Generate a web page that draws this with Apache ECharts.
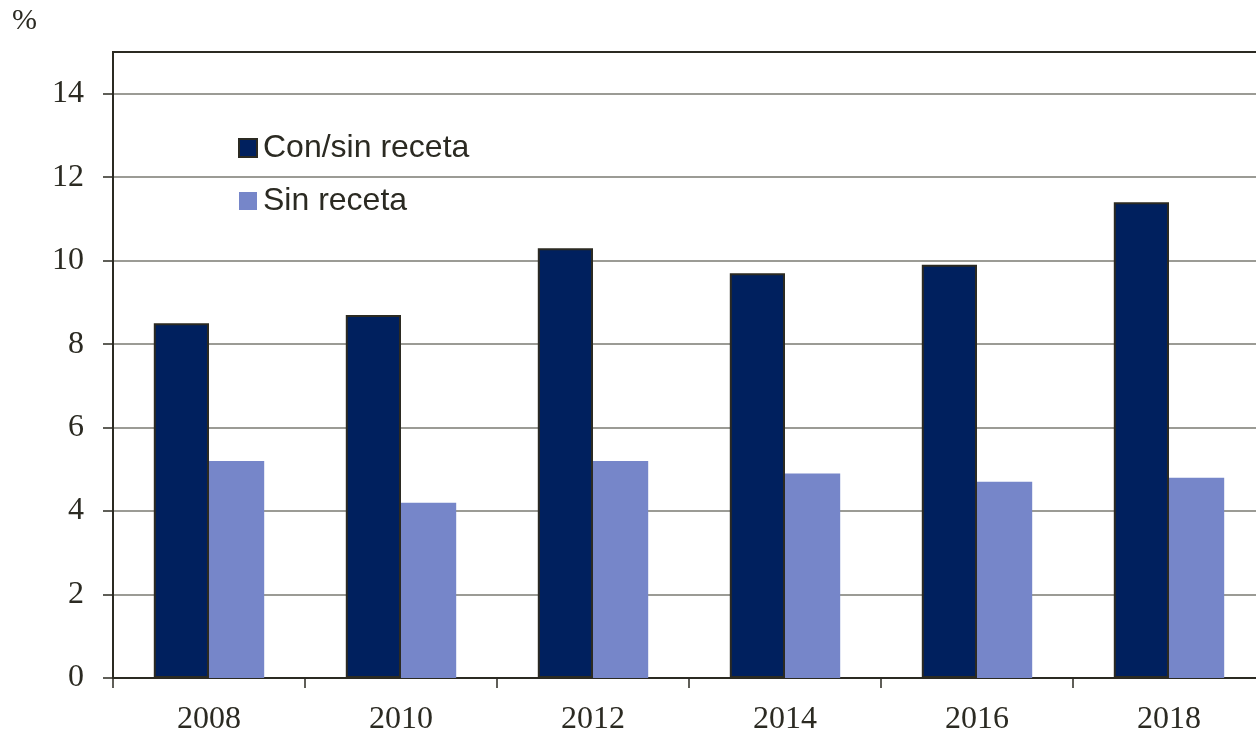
<!DOCTYPE html>
<html>
<head>
<meta charset="utf-8">
<script src="https://cdn.jsdelivr.net/npm/echarts@6/dist/echarts.min.js"></script>
<style>
html,body{margin:0;padding:0;background:#fff;}
#c{width:1256px;height:733px;}
</style>
</head>
<body>
<div id="c"></div>
<script>
var categories = ['2008', '2010', '2012', '2014', '2016', '2018'];
var conSinReceta = [8.5, 8.7, 10.3, 9.7, 9.9, 11.4];
var sinReceta = [5.2, 4.2, 5.2, 4.9, 4.7, 4.8];
var yTicks = [0, 2, 4, 6, 8, 10, 12, 14];
var seriesNames = ['Con/sin receta', 'Sin receta'];

var chart = echarts.init(document.getElementById('c'));
chart.setOption({
  animation: false,
  backgroundColor: '#ffffff',
  graphic: [{
    type: 'text', left: 12, top: 6,
    style: { text: '%', font: '30px "Liberation Serif"', fill: '#2b2a22' }
  }],
  legend: {
    orient: 'vertical',
    left: 238, top: 132,
    padding: 0,
    itemWidth: 18, itemHeight: 18,
    itemGap: 21,
    icon: 'rect',
    textStyle: { fontFamily: 'Liberation Sans', fontSize: 32, lineHeight: 31, color: '#2b2a22', padding: [0, 0, 0, 1] },
    data: [
      { name: seriesNames[0], itemStyle: { color: '#00205e', borderColor: '#2b2a22', borderWidth: 2 } },
      { name: seriesNames[1], itemStyle: { color: '#7686c9', borderWidth: 0 } }
    ]
  },
  grid: {
    left: 113, top: 52, width: 1152, bottom: 55,
    outerBoundsMode: 'none',
    containLabel: false,
    show: true, borderColor: '#2b2a22', borderWidth: 2, backgroundColor: 'transparent'
  },
  xAxis: {
    type: 'category',
    data: categories,
    axisLine: { lineStyle: { color: '#2b2a22', width: 2 } },
    axisTick: { show: true, length: 10, lineStyle: { color: '#2b2a22', width: 1.5 } },
    axisLabel: { fontFamily: 'Liberation Serif', fontSize: 32, color: '#2b2a22', margin: 26 },
    splitLine: { show: false }
  },
  yAxis: {
    type: 'value',
    min: 0, max: 15, interval: 1,
    axisLine: { show: true, lineStyle: { color: '#2b2a22', width: 2 } },
    axisTick: { show: true, length: 10, customValues: yTicks, lineStyle: { color: '#2b2a22', width: 1.5 } },
    axisLabel: { customValues: yTicks, fontFamily: 'Liberation Serif', fontSize: 32, color: '#2b2a22', margin: 29 },
    splitLine: { show: true, lineStyle: { color: '#7a7a72', width: 1.5 } }
  },
  series: [
    {
      name: seriesNames[0], type: 'bar', data: conSinReceta,
      barGap: '0%', barCategoryGap: '42.5%',
      itemStyle: { color: '#00205e', borderColor: '#2b2a22', borderWidth: 2 }
    },
    {
      name: seriesNames[1], type: 'bar', data: sinReceta,
      itemStyle: { color: '#7686c9' }
    }
  ]
});
</script>
</body>
</html>
